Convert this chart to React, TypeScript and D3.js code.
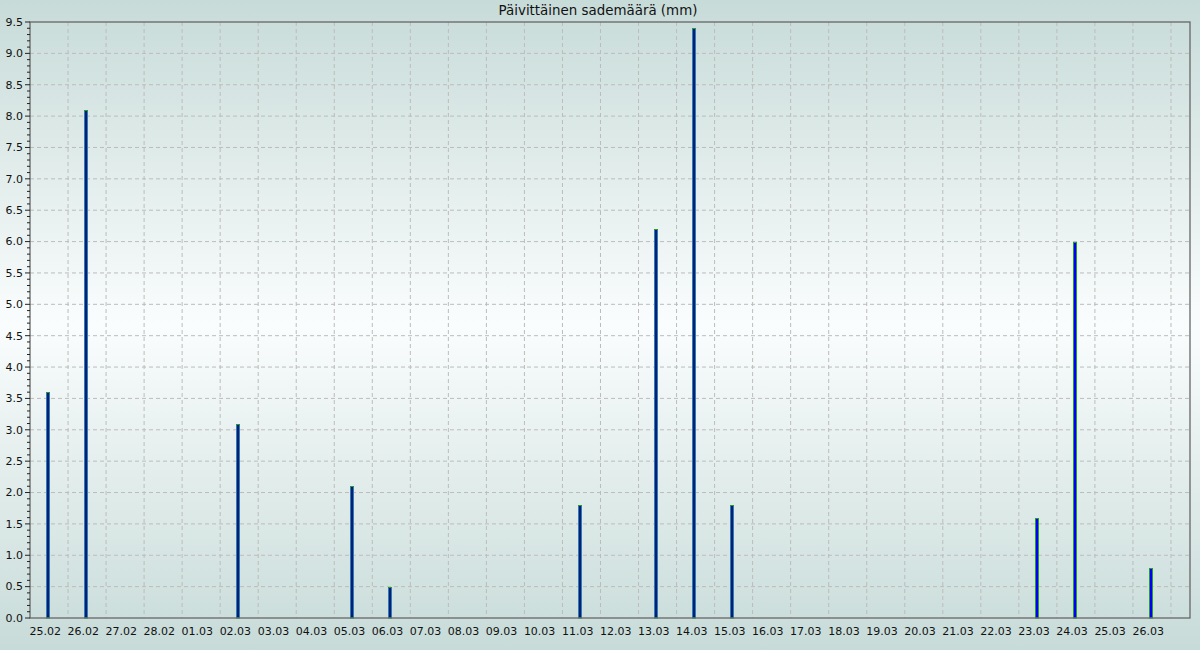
import React from "react";
import * as d3 from "d3";

const dayLabels = [
  "25.02", "26.02", "27.02", "28.02", "01.03", "02.03", "03.03", "04.03",
  "05.03", "06.03", "07.03", "08.03", "09.03", "10.03", "11.03", "12.03",
  "13.03", "14.03", "15.03", "16.03", "17.03", "18.03", "19.03", "20.03",
  "21.03", "22.03", "23.03", "24.03", "25.03", "26.03",
];
const rainfall = [
  3.6, 8.1, 0, 0, 0, 3.1, 0, 0, 2.1, 0.5, 0, 0, 0, 0, 1.8, 0,
  6.2, 9.4, 1.8, 0, 0, 0, 0, 0, 0, 0, 1.6, 6.0, 0, 0.8,
];
const yTicks = d3.range(0, 9.51, 0.5);
const yMinor = d3.range(0, 9.51, 0.1);

const W = 1200;
const H = 650;
const margin = { top: 22, right: 10, bottom: 32, left: 30 };

export default function App() {
  const x = d3.scaleLinear().domain([0, 30.5]).range([margin.left, W - margin.right]);
  const y = d3.scaleLinear().domain([0, 9.5]).range([H - margin.bottom, margin.top]);
  const [x0, x1] = x.range();
  const [y0, y1] = y.range();
  const font = "'DejaVu Sans', sans-serif";

  return (
    <svg width={W} height={H} style={{ display: "block", position: "absolute", left: 0, top: 0 }}>
      <defs>
        <linearGradient id="bg" x1="0" y1="0" x2="0" y2="1">
          <stop offset="0" stopColor="#c7dbd8" />
          <stop offset="0.5" stopColor="#fafdfd" />
          <stop offset="1" stopColor="#c7dbd8" />
        </linearGradient>
      </defs>
      <rect width={W} height={H} fill="url(#bg)" />

      {/* grid */}
      {d3.range(1, 31).map(d => (
        <line key={"vg" + d} x1={x(d)} x2={x(d)} y1={y1} y2={y0}
          stroke="#bcbcbc" strokeDasharray="4,3" />
      ))}
      {yTicks.slice(1, -1).map(v => (
        <line key={"hg" + v} x1={x0} x2={x1} y1={y(v)} y2={y(v)}
          stroke="#bcbcbc" strokeDasharray="4,3" />
      ))}

      {/* bars */}
      {rainfall.map((v, i) => v > 0 && (
        <rect key={"b" + i} x={Math.round(x(i + 0.47)) - 1.5} y={Math.round(y(v)) + 0.5}
          width={3} height={y(0) - Math.round(y(v)) - 0.5}
          fill="#0000ff" stroke="#2a9a2a" strokeWidth={1} />
      ))}

      {/* frame */}
      <rect x={x0} y={y1} width={x1 - x0} height={y0 - y1} fill="none" stroke="#666" strokeWidth={1.3} />

      {/* y ticks */}
      {yMinor.map((v, i) => (
        <line key={"mt" + i} x1={x0 - (i % 5 === 0 ? 5 : 3)} x2={x0} y1={y(v)} y2={y(v)} stroke="#222" />
      ))}
      {yTicks.map(v => (
        <text key={"yt" + v} x={x0 - 7} y={y(v)} dy="0.35em" textAnchor="end"
          fontFamily={font} fontSize={11} fill="#111">{v.toFixed(1)}</text>
      ))}

      {/* x labels */}
      {dayLabels.map((l, i) => (
        <text key={"xl" + i} x={x(i + 0.4)} y={y0 + 17} textAnchor="middle"
          fontFamily={font} fontSize={11} fill="#111">{l}</text>
      ))}

      <text x={598} y={15} textAnchor="middle" fontFamily={font} fontSize={13.4} fill="#111">
        Päivittäinen sademäärä (mm)
      </text>
    </svg>
  );
}
